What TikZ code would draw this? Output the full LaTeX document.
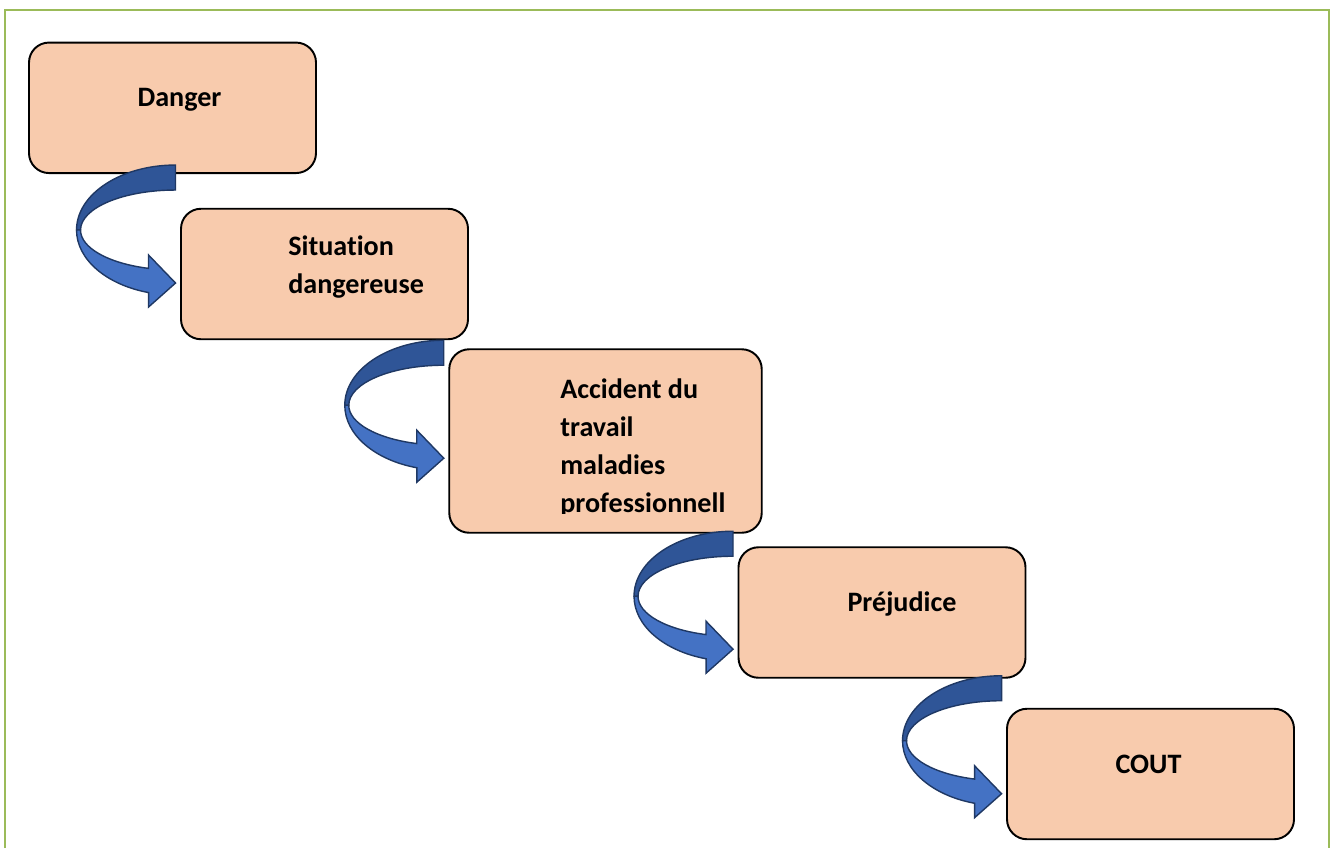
\documentclass[tikz,border=0pt]{standalone}
\usepackage{fontspec}
\setmainfont{Carlito}[Ligatures=NoCommon]
\usetikzlibrary{calc}
\definecolor{boxfill}{HTML}{F8CBAD}
\definecolor{arrowdark}{HTML}{2F5597}
\definecolor{arrowlight}{HTML}{4472C4}
\definecolor{arrowedge}{HTML}{1F3864}
\definecolor{framegreen}{HTML}{9BBB59}

\begin{document}
\begin{tikzpicture}[
    box/.style={rectangle, rounded corners=0.4cm, draw, line width=1.1pt, fill=boxfill, minimum width=5.74cm, minimum height=2.61cm},
    boxtext/.style={font=\bfseries\fontsize{16}{21.8}\selectfont, inner sep=0pt},
    turnarrow/.pic={
        \filldraw[fill=arrowdark, draw=arrowedge, line width=0.8pt] (0,0) arc[start angle=90, end angle=180, x radius=1.98, y radius=1.3] -- (-1.9,-1.3) arc[start angle=180, end angle=90, x radius=1.9, y radius=0.8] -- cycle;
        \filldraw[fill=arrowlight, draw=arrowedge, line width=0.8pt] (-1.98,-1.3) arc[start angle=180, end angle=254.2, x radius=1.98, y radius=1.3] -- (-0.54,-2.84) -- (0,-2.36) -- (-0.54,-1.80) -- (-0.54,-2.067) arc[start angle=253.5, end angle=180, x radius=1.9, y radius=0.8] -- cycle;
    }
]
\useasboundingbox (0,0) rectangle (26.68,-16.96);

% Frame
\draw[framegreen, line width=1.6pt] (0.1,-16.96) -- (0.1,-0.2) -- (26.58,-0.2) -- (26.58,-16.96);

% Boxes
\node[box] (danger) at (3.45,-2.156) {};
\node[box] (situation) at (6.49,-5.48) {};
\node[box, minimum width=6.25cm, minimum height=3.67cm] (accident) at (12.11,-8.82) {};
\node[box] (prejudice) at (17.64,-12.25) {};
\node[box] (cout) at (23.01,-15.48) {};

% Texts
\node[boxtext, anchor=base] (dangertxt) at (3.59,-2.12) {Danger};
\node[boxtext, anchor=base west] (situationtxt) at (5.76,-5.10) {\vtop{\hbox{Situation}\hbox{dangereuse}}};
\begin{scope}
    \clip (accident.north west) rectangle ([yshift=0.41cm]accident.south east);
    \node[boxtext, anchor=base west] (accidenttxt) at (11.2,-7.96) {\vtop{\hbox{Accident du}\hbox{travail}\hbox{maladies}\hbox{professionnell}}};
\end{scope}
\node[boxtext, anchor=base] (prejudicetxt) at (18.04,-12.23) {Préjudice};
\node[boxtext, anchor=base] (couttxt) at (22.97,-15.46) {COUT};

% Curved arrows
\foreach \a/\b/\dy in {danger/situation/0.18, situation/accident/0.0, accident/prejudice/0.05, prejudice/cout/0.06} {
    \pic at ($(\a.south -| \b.west)+(-0.09,\dy)$) {turnarrow};
}

\end{tikzpicture}
\end{document}
